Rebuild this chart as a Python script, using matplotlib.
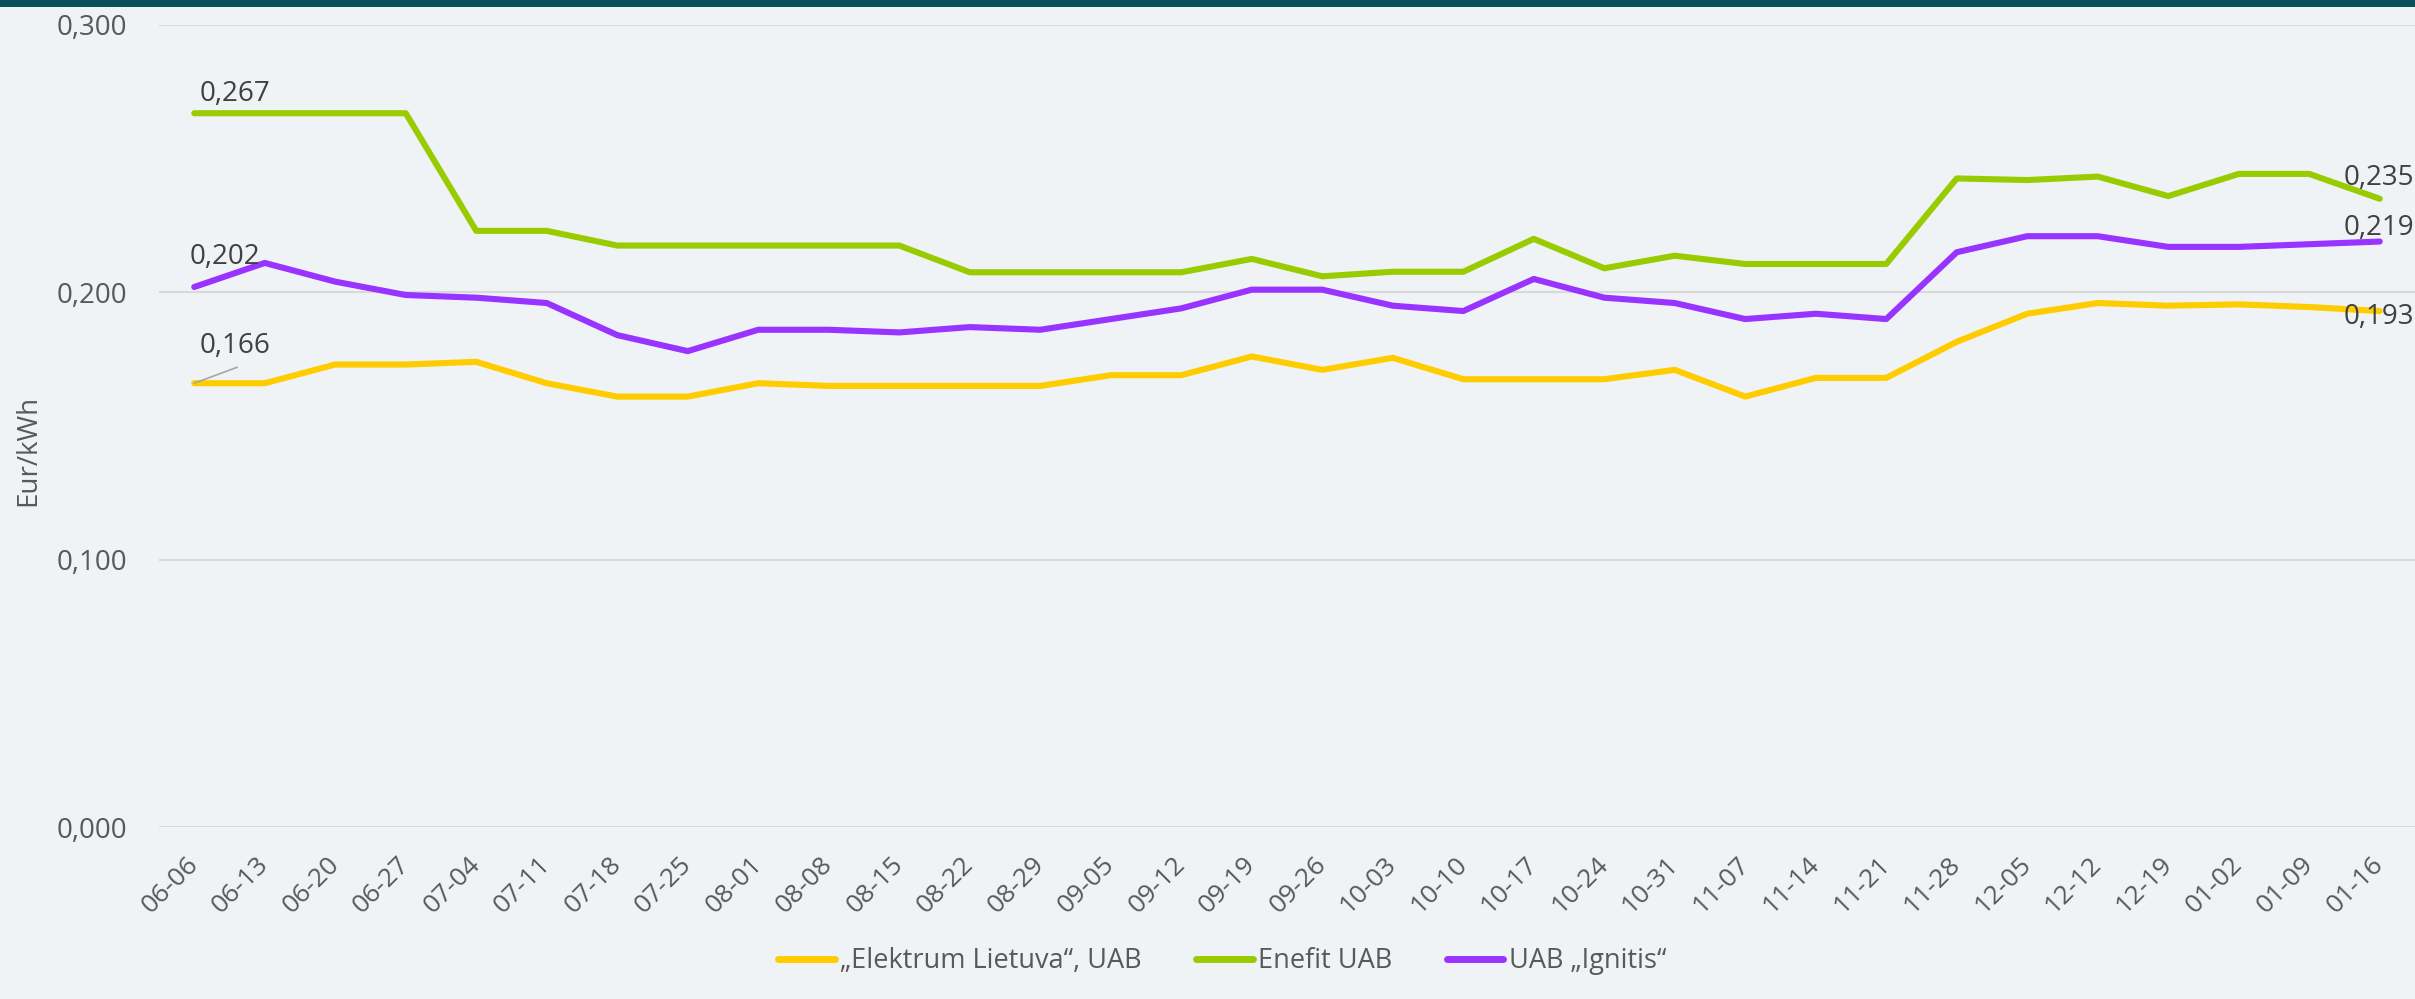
import matplotlib
matplotlib.use("Agg")
import matplotlib.pyplot as plt
from matplotlib.ticker import FuncFormatter, MultipleLocator
from matplotlib.patches import Rectangle

plt.rcParams['font.family'] = ['Open Sans', 'DejaVu Sans']

dates = ['06-06', '06-13', '06-20', '06-27', '07-04', '07-11', '07-18', '07-25',
         '08-01', '08-08', '08-15', '08-22', '08-29', '09-05', '09-12', '09-19',
         '09-26', '10-03', '10-10', '10-17', '10-24', '10-31', '11-07', '11-14',
         '11-21', '11-28', '12-05', '12-12', '12-19', '01-02', '01-09', '01-16']

elektrum = [0.166, 0.166, 0.173, 0.173, 0.174, 0.166, 0.161, 0.161,
            0.166, 0.165, 0.165, 0.165, 0.165, 0.169, 0.169, 0.176,
            0.171, 0.1755, 0.1675, 0.1675, 0.1675, 0.171, 0.161, 0.168,
            0.168, 0.1815, 0.192, 0.196, 0.195, 0.1955, 0.1945, 0.193]

enefit = [0.267, 0.267, 0.267, 0.267, 0.223, 0.223, 0.2175, 0.2175,
          0.2175, 0.2175, 0.2175, 0.2075, 0.2075, 0.2075, 0.2075, 0.2125,
          0.206, 0.2077, 0.2077, 0.220, 0.209, 0.2137, 0.2106, 0.2106,
          0.2106, 0.2426, 0.242, 0.2433, 0.236, 0.2443, 0.2443, 0.235]

ignitis = [0.202, 0.211, 0.204, 0.199, 0.198, 0.196, 0.184, 0.178,
           0.186, 0.186, 0.185, 0.187, 0.186, 0.190, 0.194, 0.201,
           0.201, 0.195, 0.193, 0.205, 0.198, 0.196, 0.190, 0.192,
           0.190, 0.215, 0.221, 0.221, 0.217, 0.217, 0.218, 0.219]

series_names = ['\u201eElektrum Lietuva\u201c, UAB', 'Enefit UAB', 'UAB \u201eIgnitis\u201c']
colors = ['#FFCC00', '#99CC00', '#9933FF']

BG = '#eff3f6'
TXT = '#595959'
LBL = '#404040'

W, H = 2415, 999
fig = plt.figure(figsize=(W / 100, H / 100), dpi=100, facecolor=BG)
ax = fig.add_axes([159 / W, 1 - 827 / H, 1 - 159 / W, (827 - 25) / H])
ax.set_facecolor(BG)

x = list(range(len(dates)))
for vals, c, name in zip([elektrum, enefit, ignitis], colors, series_names):
    ax.plot(x, vals, color=c, lw=4.4, label=name, solid_capstyle='round',
            solid_joinstyle='round', zorder=3)

ax.set_xlim(-0.5, len(dates) - 0.5)
ax.set_ylim(0, 0.3)
ax.yaxis.set_major_locator(MultipleLocator(0.1))
ax.yaxis.set_major_formatter(FuncFormatter(lambda v, p: f"{v:.3f}".replace('.', ',')))
ax.grid(axis='y', color='#d9d9d9', lw=1.5, zorder=0)
ax.grid(axis='x', visible=False)
for s in ax.spines.values():
    s.set_visible(False)
ax.tick_params(axis='both', length=0)
ax.tick_params(axis='y', labelsize=20, labelcolor=TXT, pad=23)
ax.set_xticks(x)
ax.set_xticklabels(dates, rotation=45, ha='right', va='center',
                   rotation_mode='anchor', fontsize=19, color=TXT)
ax.tick_params(axis='x', pad=24)

fmt = lambda v: f"{v:.3f}".replace('.', ',')
# first-point labels (offsets in pixels)
ax.annotate(fmt(enefit[0]), (0, enefit[0]), xytext=(5, 19), textcoords='offset pixels',
            ha='left', va='center', fontsize=20, color=LBL, zorder=5)
ax.annotate(fmt(ignitis[0]), (0, ignitis[0]), xytext=(-5, 30), textcoords='offset pixels',
            ha='left', va='center', fontsize=20, color=LBL, zorder=5)
ax.annotate(fmt(elektrum[0]), (0, elektrum[0]), xytext=(5, 37), textcoords='offset pixels',
            ha='left', va='center', fontsize=20, color=LBL, zorder=5)
ax.annotate('', (0, elektrum[0]), xytext=(43, 16), textcoords='offset pixels',
            arrowprops=dict(arrowstyle='-', color='#a6a6a6', lw=1.2,
                            shrinkA=0, shrinkB=0), zorder=4)
# last-point labels
n = len(dates) - 1
ax.annotate(fmt(enefit[n]), (n, enefit[n]), xytext=(-36, 21), textcoords='offset pixels',
            ha='left', va='center', fontsize=20, color=LBL, zorder=5, annotation_clip=False)
ax.annotate(fmt(ignitis[n]), (n, ignitis[n]), xytext=(-36, 14), textcoords='offset pixels',
            ha='left', va='center', fontsize=20, color=LBL, zorder=5, annotation_clip=False)
ax.annotate(fmt(elektrum[n]), (n, elektrum[n]), xytext=(-36, -6), textcoords='offset pixels',
            ha='left', va='center', fontsize=20, color=LBL, zorder=5, annotation_clip=False)

fig.text(28 / W, 1 - 450 / H, 'Eur/kWh', rotation=90, ha='center', va='center',
         fontsize=20, color=TXT)

leg = fig.legend(loc='center', bbox_to_anchor=(1222 / W, 1 - 961 / H), ncol=3,
                 frameon=False, fontsize=19.5, handlelength=2.1, handletextpad=0.2,
                 columnspacing=2.0, labelcolor=TXT)
for h in leg.legend_handles:
    h.set_linewidth(5)

# top bar
fig.add_artist(Rectangle((0, 1 - 7 / H), 1, 7 / H, transform=fig.transFigure,
                         facecolor='#0a4f5a', edgecolor='none', zorder=10))

fig.savefig('out.png', dpi=100, facecolor=BG)
